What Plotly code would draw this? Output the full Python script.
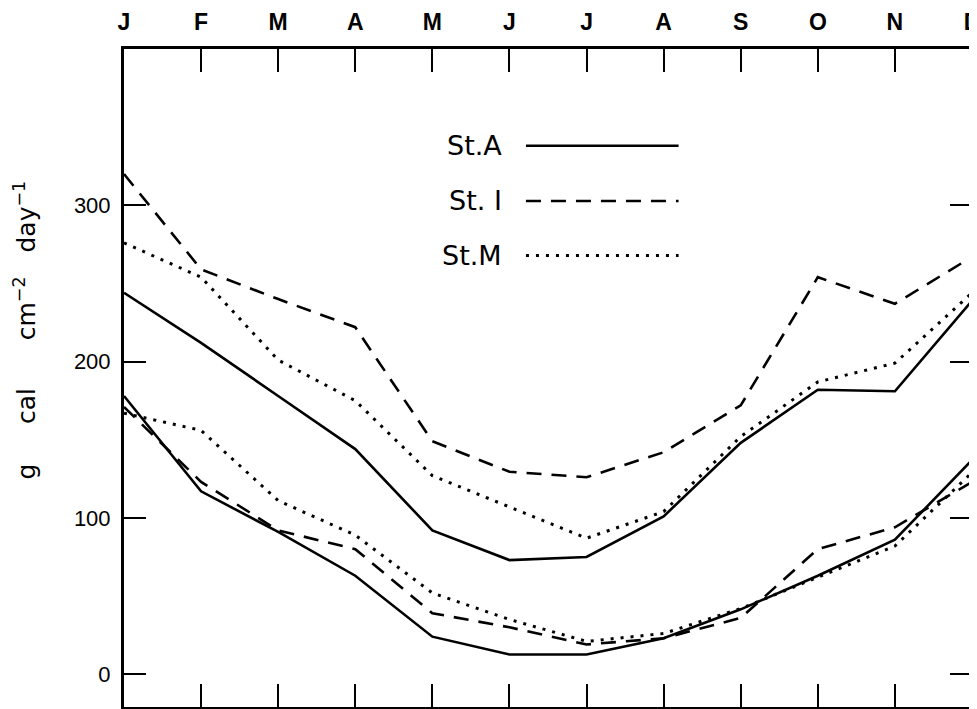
import plotly.graph_objects as go

months = ["J", "F", "M", "A", "M", "J", "J", "A", "S", "O", "N", "D"]
y_ticks = [0, 100, 200, 300]

st_a_upper = [244, 212, 178, 144, 92, 73, 75, 101, 148, 182, 181, 239]
st_a_lower = [178, 117, 91, 63, 24, 12.6, 12.6, 23, 41.5, 63, 86, 137]
st_i_upper = [320, 259, 240, 222, 149, 129.5, 126, 142, 172, 254, 237, 267]
st_i_lower = [171, 123, 92, 80, 39, 30, 19, 23, 36, 80, 94, 123]
st_m_upper = [276, 254, 201, 175, 127, 107, 87, 104, 152, 187, 199, 244]
st_m_lower = [167, 156, 111, 89, 52, 35, 21, 26, 42, 62, 82, 129]

DASH_I = "15px,10px"
DASH_M = "3px,7px"
series = [
    ("St.A", st_a_upper, "solid"),
    ("St.A", st_a_lower, "solid"),
    ("St.I", st_i_upper, DASH_I),
    ("St.I", st_i_lower, DASH_I),
    ("St.M", st_m_upper, DASH_M),
    ("St.M", st_m_lower, DASH_M),
]

x = list(range(len(months)))
fig = go.Figure()
for name, vals, dash in series:
    fig.add_trace(go.Scatter(
        x=x, y=vals, mode="lines", name=name, showlegend=False,
        line=dict(color="black", width=3 if dash == DASH_M else 2.6, dash=dash),
    ))

# inline legend (text + sample line), positioned in paper coordinates
legend_items = [("St.A", "solid", 0.853), ("St. I", DASH_I, 0.769), ("St.M", DASH_M, 0.686)]
for label, dash, yp in legend_items:
    fig.add_annotation(x=0.448, y=yp, xref="paper", yref="paper", text=label,
                       showarrow=False, xanchor="right", yanchor="middle",
                       font=dict(family="DejaVu Sans", size=27, color="black"))
    fig.add_shape(type="line", xref="paper", yref="paper", x0=0.474, x1=0.654, y0=yp, y1=yp,
                  line=dict(color="black", width=3 if dash == DASH_M else 2.6, dash=dash))

g1 = "&nbsp;" * 5
g2 = "&nbsp;" * 6
g3 = "&nbsp;" * 3
fig.add_annotation(x=-0.116, y=0.573, xref="paper", yref="paper",
                   text=f"g{g1}cal{g2}cm<sup>−2</sup>{g3}day<sup>−1</sup>",
                   textangle=-90, showarrow=False, xanchor="center", yanchor="middle",
                   font=dict(family="DejaVu Sans", size=25, color="black"))

fig.update_xaxes(
    range=[0, 11], side="top", tickvals=x, ticktext=months,
    ticks="inside", ticklen=23, tickwidth=2, tickcolor="black",
    showline=True, linewidth=3, linecolor="black", mirror="allticks",
    showgrid=False, zeroline=False, ticklabelstandoff=7, automargin=False,
    ticklabeloverflow="allow",
    tickfont=dict(family="Liberation Sans", size=23, color="black", weight="bold"),
)
fig.update_yaxes(
    range=[-21, 400], tickvals=y_ticks, ticktext=[str(v) for v in y_ticks],
    ticks="inside", ticklen=22, tickwidth=2, tickcolor="black",
    showline=True, linewidth=3, linecolor="black", mirror="allticks",
    showgrid=False, zeroline=False, ticklabelstandoff=6, automargin=False,
    tickfont=dict(family="Liberation Sans", size=22, color="black"),
)
# the page body adds an 8px margin, so the figure is 8px smaller and margins offset
fig.update_layout(
    width=969, height=701,
    margin=dict(l=116, r=5, t=41, b=2),
    paper_bgcolor="white", plot_bgcolor="white",
)
fig.write_html("out.html")
